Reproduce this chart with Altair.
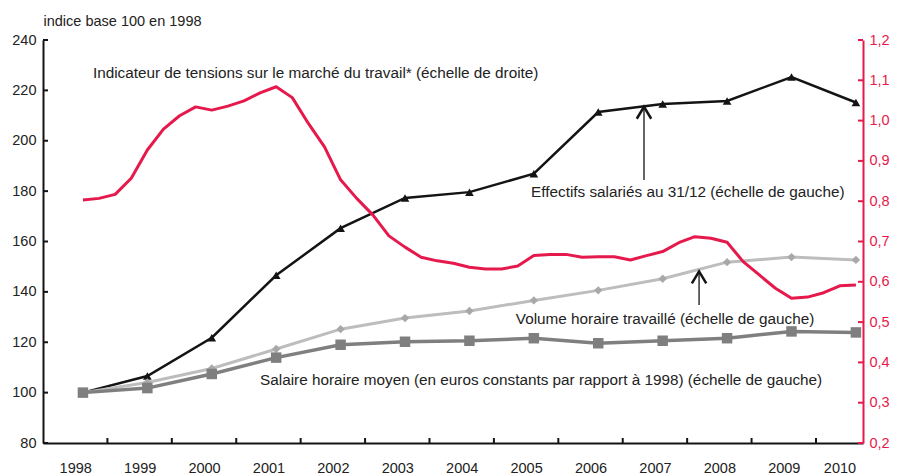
import altair as alt
import pandas as pd

# ---------------- data ----------------
years = list(range(1998, 2011))
effectifs = [100, 106.6, 121.8, 146.6, 165.3, 177.3, 179.6, 186.9, 211.4, 214.6, 215.8, 225.3, 215.2]
volume = [100, 104.0, 109.6, 117.3, 125.2, 129.6, 132.4, 136.6, 140.6, 145.2, 151.8, 153.8, 152.7]
salaire = [100, 101.8, 107.4, 113.9, 119.0, 120.2, 120.6, 121.6, 119.6, 120.6, 121.6, 124.3, 123.9]

# quarterly labour-market tension indicator, 1998 Q1 .. 2010 Q1 (right scale)
tension = [0.803, 0.807, 0.817, 0.857, 0.927, 0.979, 1.012, 1.034, 1.026, 1.036,
           1.049, 1.069, 1.084, 1.057, 0.993, 0.935, 0.853, 0.807, 0.766, 0.714,
           0.686, 0.661, 0.652, 0.646, 0.636, 0.632, 0.632, 0.639, 0.665, 0.668,
           0.668, 0.661, 0.662, 0.662, 0.654, 0.665, 0.675, 0.697, 0.712, 0.708,
           0.698, 0.650, 0.617, 0.584, 0.559, 0.562, 0.573, 0.590, 0.592]
tension_x = [years[0] + k / 4 for k in range(len(tension))]

left_ticks = [80, 100, 120, 140, 160, 180, 200, 220, 240]
right_ticks = [0.2, 0.3, 0.4, 0.5, 0.6, 0.7, 0.8, 0.9, 1.0, 1.1, 1.2]

left_title = "indice base 100 en 1998"
ann_text = [
    "Indicateur de tensions sur le marché du travail* (échelle de droite)",
    "Effectifs salariés au 31/12 (échelle de gauche)",
    "Volume horaire travaillé (échelle de gauche)",
    "Salaire horaire moyen (en euros constants par rapport à 1998) (échelle de gauche)",
]
ann_x = [1998.155, 2004.957, 2004.72, 2000.75]
ann_y = [226.9, 179.7, 129.3, 105.0]

arrow_x = [2006.71, 2007.565]
arrow_top = [213.5, 148.1]
arrow_bottom = [184.4, 134.8]

# ---------------- styling ----------------
W, H = 820, 403
FONT = "Liberation Sans"
BLACK = "#141414"
TXT = "#222222"
RED = "#E5194B"
LGREY = "#BDBDBD"
DGREY = "#7F7F7F"

band_offset = 0.38
x_lo = years[0] - 1 + band_offset
x_hi = 2010.11
boundaries = [y + band_offset for y in years[:-1]]
edges = [x_lo] + boundaries + [x_hi]
label_pos = [(a + b) / 2 for a, b in zip(edges[:-1], edges[1:])]

xscale = alt.Scale(domain=[x_lo, x_hi], nice=False, zero=False)
lscale = alt.Scale(domain=[80, 240], nice=False, zero=False)
rscale = alt.Scale(domain=[0.2, 1.2], nice=False, zero=False)

x_axis = alt.Axis(values=label_pos, labelExpr="'' + round(datum.value)", ticks=False,
                  domainColor=BLACK, domainWidth=2, labelPadding=18, grid=False, title=None,
                  labelFlush=False, labelOverlap=False, labelColor=TXT, labelFont=FONT,
                  labelFontSize=14.5)
l_axis = alt.Axis(values=left_ticks, ticks=False, domainColor=BLACK, domainWidth=2,
                  labelPadding=7, grid=False, labelColor=TXT, labelFont=FONT, labelFontSize=14.5,
                  title=left_title, titleAngle=0, titleAlign="left", titleBaseline="middle",
                  titleX=0, titleY=-19, titleFontWeight="normal", titleFont=FONT,
                  titleFontSize=14.5, titleColor=TXT)
r_axis = alt.Axis(orient="right", values=right_ticks, ticks=False, domainColor=RED, domainWidth=2,
                  labelPadding=6, grid=False, labelColor=RED, labelFont=FONT, labelFontSize=14.5,
                  labelExpr="replace(format(datum.value, '.1f'), '.', ',')", title=None)


def X(field):
    return alt.X(field, scale=xscale, axis=x_axis)


def YL(field):
    return alt.Y(field, scale=lscale, axis=l_axis)


def YR(field):
    return alt.Y(field, scale=rscale, axis=r_axis)


df_eff = pd.DataFrame({"year": years, "v": effectifs})
df_vol = pd.DataFrame({"year": years, "v": volume})
df_sal = pd.DataFrame({"year": years, "v": salaire})
df_ten = pd.DataFrame({"t": tension_x, "v": tension})

eff = alt.Chart(df_eff).mark_line(
    color=BLACK, strokeWidth=2.5,
    point=alt.OverlayMarkDef(shape="triangle-up", size=75, filled=True, color=BLACK)
).encode(x=X("year:Q"), y=YL("v:Q"))

vol = alt.Chart(df_vol).mark_line(
    color=LGREY, strokeWidth=3,
    point=alt.OverlayMarkDef(shape="diamond", size=70, filled=True, color="#A8A8A8")
).encode(x=X("year:Q"), y=YL("v:Q"))

sal = alt.Chart(df_sal).mark_line(
    color=DGREY, strokeWidth=3.5,
    point=alt.OverlayMarkDef(shape="square", size=110, filled=True, color=DGREY)
).encode(x=X("year:Q"), y=YL("v:Q"))

df_ann = pd.DataFrame({"x": ann_x, "y": ann_y, "text": ann_text})
texts = alt.Chart(df_ann).mark_text(align="left", baseline="middle", font=FONT,
                                    fontSize=15.3, color=TXT).encode(
    x=X("x:Q"), y=YL("y:Q"), text="text:N")

df_arr = pd.DataFrame({"x": arrow_x, "top": arrow_top, "bottom": arrow_bottom})
shafts = alt.Chart(df_arr).mark_rule(color=BLACK, strokeWidth=1.3).encode(
    x=X("x:Q"), y=YL("top:Q"), y2="bottom:Q")
heads = alt.Chart(df_arr).mark_point(
    shape="M -0.6 1 L 0 0 L 0.6 1", size=576, filled=False, color=BLACK,
    strokeWidth=2.5, opacity=1, strokeJoin="miter"
).encode(x=X("x:Q"), y=YL("top:Q"))

ltick = alt.Chart(pd.DataFrame({"v": left_ticks})).mark_rule(color=BLACK, strokeWidth=2).encode(
    y=YL("v:Q"), x=alt.value(0), x2=alt.value(5))
btick = alt.Chart(pd.DataFrame({"b": boundaries})).mark_rule(color=BLACK, strokeWidth=2).encode(
    x=X("b:Q"), y=alt.value(H), y2=alt.value(H - 5))

left = alt.layer(eff, vol, sal, texts, shafts, heads, ltick, btick)

ten = alt.Chart(df_ten).mark_line(color=RED, strokeWidth=3, strokeJoin="round").encode(
    x=X("t:Q"), y=YR("v:Q"))
rtick = alt.Chart(pd.DataFrame({"v": right_ticks})).mark_rule(color=RED, strokeWidth=2).encode(
    y=YR("v:Q"), x=alt.value(W - 5), x2=alt.value(W))

right = alt.layer(ten, rtick)

chart = alt.layer(left, right).resolve_scale(y="independent").properties(
    width=W, height=H,
    autosize=alt.AutoSizeParams(type="none"),
    padding={"left": 35, "top": 32, "right": 27, "bottom": 40},
).configure_view(strokeWidth=0)

chart.save("out.html", embed_options={"renderer": "svg", "actions": False})
